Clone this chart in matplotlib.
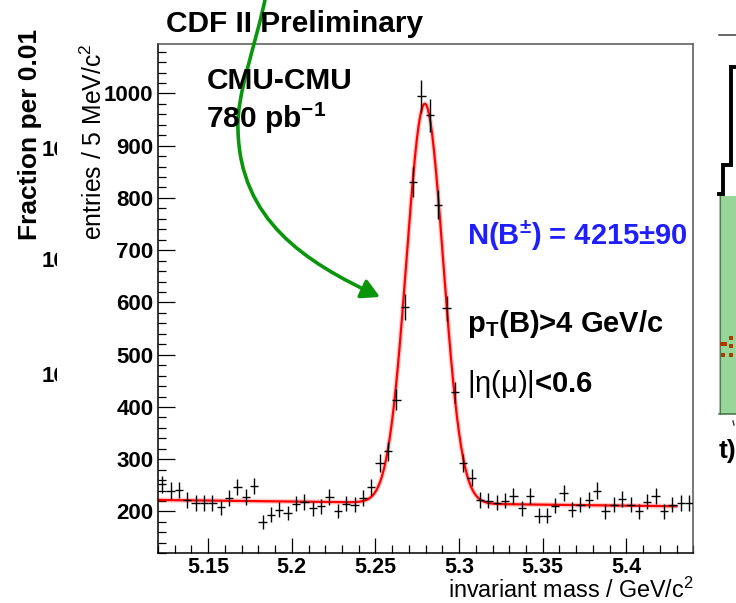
import numpy as np
import matplotlib
matplotlib.use("Agg")
import matplotlib.pyplot as plt
from matplotlib.path import Path
from matplotlib.patches import FancyArrowPatch, Rectangle
from matplotlib.ticker import FixedLocator, MultipleLocator

plt.rcParams.update({
    "font.family": "Liberation Sans",
    "mathtext.fontset": "custom",
    "mathtext.rm": "Liberation Sans",
    "mathtext.it": "Liberation Sans:italic",
    "mathtext.bf": "Liberation Sans:bold",
    "mathtext.default": "regular",
})

# ---- histogram of the B+- -> J/psi K+- candidate mass (GeV/c^2) ----
mass_min = 5.12
mass_max = 5.44
bin_width = 0.005

counts = [252, 240, 241, 222, 216, 216, 216, 208, 226, 247,
          228, 249, 180, 194, 203, 197, 215, 218, 206, 210,
          228, 201, 215, 213, 226, 247, 292, 315, 414, 591,
          830, 995, 958, 787, 589, 428, 293, 265, 222, 221,
          217, 221, 230, 206, 230, 192, 192, 211, 236, 203,
          213, 222, 240, 200, 213, 224, 213, 200, 219, 229,
          200, 213, 216, 216]

# ---- fit: gaussian signal + linear background ----
n_signal = 4215
n_signal_err = 90
fit_mean = 5.2795
fit_sigma = 0.0110
bkg_at_low = 222.0
bkg_at_high = 210.0
fit_low = 5.12
fit_high = 5.43

# ---- axes ----
y_min, y_max = 120, 1094
x_major = [5.15, 5.20, 5.25, 5.30, 5.35, 5.40]
x_labels = ["5.15", "5.2", "5.25", "5.3", "5.35", "5.4"]
y_major = [200, 300, 400, 500, 600, 700, 800, 900, 1000]
y_labels = ["200", "300", "400", "500", "600", "700", "800", "900", "1000"]

W, H = 736, 603
fig = plt.figure(figsize=(W / 100, H / 100), dpi=100)
fig.patch.set_facecolor("white")

# background layer (pixel coordinates, y downwards)
bg = fig.add_axes([0, 0, 1, 1], zorder=0)
bg.set_xlim(0, W)
bg.set_ylim(H, 0)
bg.axis("off")

bg.text(37, 240, "Fraction per 0.01", rotation=90, rotation_mode="anchor",
        ha="left", va="baseline", fontsize=19, fontweight="bold")
for yb in (156, 267, 382):
    bg.text(41.5, yb, "10", fontsize=16, fontweight="bold", va="baseline", zorder=1)
bg.add_patch(Rectangle((57, -5), 660, H + 10, facecolor="white",
                       edgecolor="none", zorder=5))

bg.plot([719, 740], [35, 35], color="#404040", lw=1.1, zorder=2)
bg.add_patch(Rectangle((719, 196), 25, 218, facecolor="#98d598",
                       edgecolor="none", zorder=2))
bg.plot([719.5, 719.5], [196, 414], color="#4f7f4f", lw=0.8, zorder=3)
bg.plot([719, 740], [414, 414], color="#3f6f3f", lw=1.1, zorder=3)
bg.plot([719, 723, 723, 731, 731, 745], [194, 194, 164.5, 164.5, 66.5, 66.5],
        color="black", lw=2.8, solid_joinstyle="miter", zorder=4)
bg.scatter([730.5, 721.5, 725.0, 730.5, 722.5, 730.5],
           [337.5, 344.0, 344.0, 345.5, 354.5, 354.5],
           marker="s", s=11, color="#a33d00", linewidths=0, zorder=4)
bg.plot([733, 734], [421, 425], color="#333333", lw=1.0, zorder=4)
bg.text(719, 458, "t)", fontsize=19, fontweight="bold", va="baseline", zorder=4)

# main histogram panel
L, R, T, B = 158.0, 693.3, 44.3, 553.3
ax = fig.add_axes([L / W, (H - B) / H, (R - L) / W, (B - T) / H], zorder=1)
ax.set_facecolor("white")

centers = mass_min + bin_width * (np.arange(len(counts)) + 0.5)
counts_arr = np.asarray(counts, dtype=float)

xf = np.linspace(fit_low, fit_high, 800)
bkg = bkg_at_low + (bkg_at_high - bkg_at_low) * (xf - fit_low) / (fit_high - fit_low)
amp = n_signal * bin_width / (fit_sigma * np.sqrt(2 * np.pi))
yf = bkg + amp * np.exp(-0.5 * ((xf - fit_mean) / fit_sigma) ** 2)
ax.plot(xf, yf, color="#ff2020", lw=3.6, alpha=0.22, zorder=2, solid_capstyle="butt")
ax.plot(xf, yf, color="#ff0000", lw=1.6, zorder=2)

ax.errorbar(centers, counts_arr, xerr=bin_width / 2, yerr=np.sqrt(counts_arr),
            fmt="none", ecolor="black", elinewidth=1.0, capsize=0, zorder=3)

ax.set_xlim(mass_min, mass_max)
ax.set_ylim(y_min, y_max)

ax.xaxis.set_major_locator(FixedLocator(x_major))
ax.xaxis.set_minor_locator(MultipleLocator(0.01))
ax.set_xticklabels(x_labels)
ax.yaxis.set_major_locator(FixedLocator(y_major))
ax.yaxis.set_minor_locator(MultipleLocator(20))
ax.set_yticklabels(y_labels)

ax.tick_params(axis="both", which="both", direction="in", top=False, right=False,
               color="black", width=0.9)
ax.tick_params(axis="y", which="major", length=12.2, labelsize=16, pad=3.3)
ax.tick_params(axis="y", which="minor", length=5.8)
ax.tick_params(axis="x", which="major", length=10.8, labelsize=15.5, pad=2.6)
ax.tick_params(axis="x", which="minor", length=5.8)
for lab in ax.get_xticklabels() + ax.get_yticklabels():
    lab.set_fontweight("bold")

for side in ("left", "bottom"):
    ax.spines[side].set_color("black")
    ax.spines[side].set_linewidth(1.1)
for side in ("top", "right"):
    ax.spines[side].set_color("#555555")
    ax.spines[side].set_linewidth(1.1)

# foreground layer: labels, annotations and the arrow
fg = fig.add_axes([0, 0, 1, 1], zorder=2)
fg.set_xlim(0, W)
fg.set_ylim(H, 0)
fg.axis("off")
fg.patch.set_visible(False)

fg.text(166, 31.7, "CDF II Preliminary", fontsize=21.5, fontweight="bold", va="baseline")
fg.text(206.5, 89.3, "CMU-CMU", fontsize=21.5, fontweight="bold", va="baseline")
fg.text(206.5, 128.3, "780 pb$^{-1}$", fontsize=21.5, fontweight="bold", va="baseline")
fg.text(467, 244.3, f"N(B$^{{\\pm}}$) = {n_signal}\u00b1{n_signal_err}", fontsize=21,
        fontweight="bold", va="baseline", color="#1e1eff")
fg.text(467, 331.5, "p$_T$(B)>4 GeV/c", fontsize=21, fontweight="bold", va="baseline")
fg.text(467, 391.5, "$\\mathrm{|\\eta(\\mu)|}$<0.6", fontsize=21, fontweight="bold",
        va="baseline")

fg.text(693.3, 602.5, "invariant mass / GeV/c$^{2}$", ha="right", va="bottom",
        fontsize=16.8)
fg.text(101.7, 43.3, "entries / 5 MeV/c$^{2}$", rotation=90, rotation_mode="anchor",
        ha="right", va="baseline", fontsize=17.8)

verts = [(266, -5), (256, 45), (236, 95), (238, 130),
         (240, 220), (305, 262), (380, 297)]
codes = [Path.MOVETO, Path.CURVE4, Path.CURVE4, Path.CURVE4,
         Path.CURVE4, Path.CURVE4, Path.CURVE4]
arrow = FancyArrowPatch(path=Path(verts, codes),
                        arrowstyle="-|>,head_length=11,head_width=6",
                        color="#0a960a", lw=2.6, mutation_scale=1,
                        transform=fg.transData)
arrow.set_clip_on(False)
fg.add_patch(arrow)

fig.savefig("out.png", dpi=100, facecolor="white")
